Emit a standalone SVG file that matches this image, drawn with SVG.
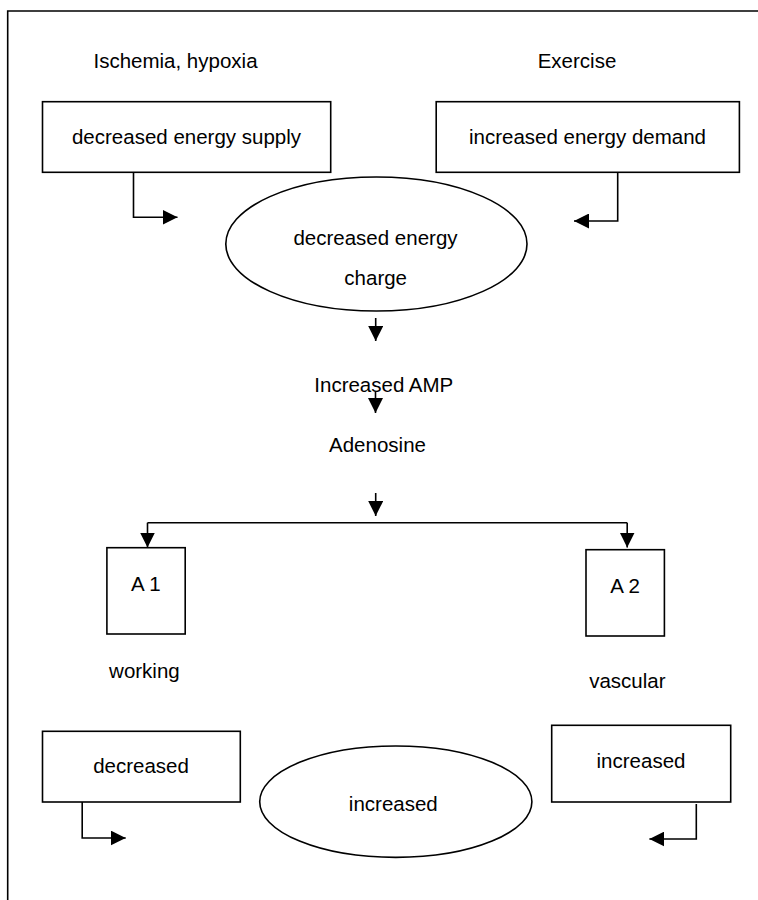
<svg xmlns="http://www.w3.org/2000/svg" width="758" height="900" viewBox="0 0 758 900">
<defs>
<style>
.t{font-family:"Liberation Sans",Arial,sans-serif;font-size:20.5px;fill:#000;text-anchor:middle}
.s{fill:#fff;stroke:#000;stroke-width:1.6}
.c{fill:none;stroke:#000;stroke-width:1.6}
</style>
<marker id="ah" markerUnits="userSpaceOnUse" markerWidth="16" markerHeight="15" refX="15" refY="7.5" orient="auto" viewBox="0 0 16 15">
<path d="M0,0 L15,7.5 L0,15 z" fill="#000"/>
</marker>
</defs>
<rect width="758" height="900" fill="#fff"/>
<g id="frame">
<path class="c" d="M7.7,900 V11 H758"/>
</g>
<g id="ischemia"><text class="t" x="175.5" y="68">Ischemia, hypoxia</text></g>
<g id="exercise"><text class="t" x="577" y="68">Exercise</text></g>
<g id="supply">
<rect class="s" x="42.5" y="101.7" width="288.2" height="70.6"/>
<text class="t" x="186.5" y="144">decreased energy supply</text>
</g>
<g id="demand">
<rect class="s" x="436.2" y="101.7" width="303.2" height="70.6"/>
<text class="t" x="587.5" y="144">increased energy demand</text>
</g>
<g id="charge">
<ellipse class="s" cx="376.4" cy="244" rx="150.6" ry="67"/>
<text class="t" x="375.5" y="245">decreased energy</text>
<text class="t" x="375.7" y="285">charge</text>
</g>
<g id="amp"><text class="t" x="383.8" y="392">Increased AMP</text></g>
<g id="adenosine"><text class="t" x="377.5" y="452">Adenosine</text></g>
<g id="a1">
<rect class="s" x="106.9" y="547.7" width="78.3" height="86.3"/>
<text class="t" x="145.8" y="590.7">A 1</text>
</g>
<g id="a2">
<rect class="s" x="586" y="549.7" width="78.4" height="86.3"/>
<text class="t" x="625" y="592.7">A 2</text>
</g>
<g id="working"><text class="t" x="144.4" y="678">working</text></g>
<g id="vascular"><text class="t" x="627.3" y="688">vascular</text></g>
<g id="decreased">
<rect class="s" x="42.5" y="731.3" width="197.8" height="70.7"/>
<text class="t" x="141" y="773">decreased</text>
</g>
<g id="increased-mid">
<ellipse class="s" cx="395.8" cy="801.7" rx="136.1" ry="55.7"/>
<text class="t" x="393.3" y="810.7">increased</text>
</g>
<g id="increased-right">
<rect class="s" x="551.7" y="725.3" width="179" height="76.7"/>
<text class="t" x="641" y="768">increased</text>
</g>
<g id="connectors">
<path class="c" d="M133.5,172.3 V217.3 H177.5" marker-end="url(#ah)"/>
<path class="c" d="M617.7,172.3 V221 H574" marker-end="url(#ah)"/>
<path class="c" d="M375.7,318 V341" marker-end="url(#ah)"/>
<path class="c" d="M375.5,391.5 V413" marker-end="url(#ah)"/>
<path class="c" d="M375.7,493 V516" marker-end="url(#ah)"/>
<path class="c" d="M147.5,522.7 H627.2"/>
<path class="c" d="M147.5,522.7 V547.5" marker-end="url(#ah)"/>
<path class="c" d="M627.2,522.7 V547.5" marker-end="url(#ah)"/>
<path class="c" d="M82.2,802 V838 H125.7" marker-end="url(#ah)"/>
<path class="c" d="M696.3,804 V839 H649.4" marker-end="url(#ah)"/>
</g>
</svg>
